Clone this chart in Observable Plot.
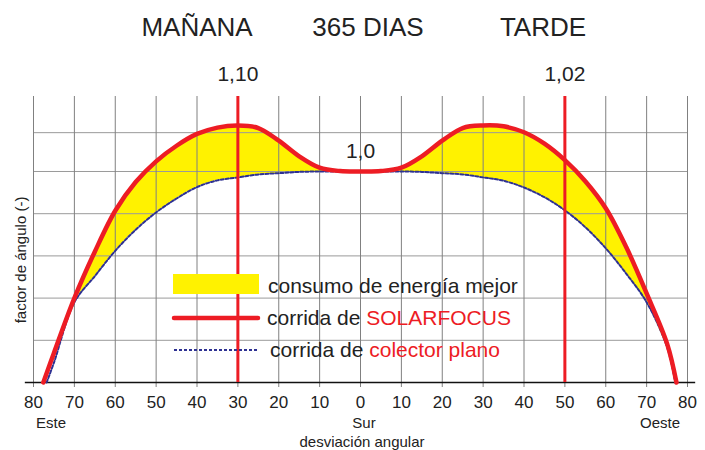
<!DOCTYPE html>
<html>
<head>
<meta charset="utf-8">
<script src="https://cdn.jsdelivr.net/npm/d3@7"></script>
<script src="https://cdn.jsdelivr.net/npm/@observablehq/plot@0.6"></script>
<style>
  html, body { margin: 0; padding: 0; background: #fff; }
  #chart svg { display: block; }
</style>
</head>
<body>
<div id="chart"></div>
<script>
// ---- data ----
const xTicks = [-80, -70, -60, -50, -40, -30, -20, -10, 0, 10, 20, 30, 40, 50, 60, 70, 80];
const yGrid = [0.6, 0.7, 0.8, 0.9, 1.0, 1.092];

// SOLARFOCUS curve
const sfAngles = [-77.6, -75, -70, -65, -60, -55, -50, -45, -40, -35, -30, -25, -20, -15, -10, -5, 0,
                  5, 10, 15, 20, 25, 30, 35, 40, 45, 50, 55, 60, 65, 70, 75, 77.3];
const sfValues = [0.5, 0.57, 0.70, 0.81, 0.907, 0.975, 1.024, 1.061, 1.089, 1.104, 1.109, 1.103, 1.073, 1.036, 1.009, 1.001, 1.0,
                  1.001, 1.009, 1.036, 1.073, 1.103, 1.109, 1.107, 1.093, 1.066, 1.027, 0.977, 0.913, 0.821, 0.711, 0.592, 0.5];

// flat plate collector curve
const fpAngles = [-76.8, -75, -70, -65, -60, -55, -50, -45, -40, -35, -30, -25, -20, -15, -10, -5, 0,
                  5, 10, 15, 20, 25, 30, 35, 40, 45, 50, 55, 60, 65, 70, 75, 77.0];
const fpValues = [0.5, 0.547, 0.69, 0.752, 0.812, 0.862, 0.903, 0.936, 0.963, 0.979, 0.986, 0.993, 0.996, 0.999, 1.0, 1.0, 1.0,
                  1.0, 1.0, 0.999, 0.996, 0.993, 0.986, 0.978, 0.962, 0.939, 0.908, 0.868, 0.818, 0.758, 0.69, 0.584, 0.5];

const markAngles = [-30, 50];
const markLabels = ["1,10", "1,02"];
const centerLabel = "1,0";
const titles = ["MAÑANA", "365 DIAS", "TARDE"];
const directions = ["Este", "Sur", "Oeste"];
const xLabel = "desviación angular";
const yLabel = "factor de ángulo (-)";
const legendTexts = ["consumo de energía mejor", "corrida de ", "SOLARFOCUS", "corrida de ", "colector plano"];

// ---- tables built from the arrays ----
const sf = sfAngles.map((a, i) => ({angle: a, v: sfValues[i]}));
const fp = fpAngles.map((a, i) => ({angle: a, v: fpValues[i]}));
const areaRows = sf
  .filter(d => fpAngles.includes(d.angle))
  .map(d => ({angle: d.angle, sf: d.v, fp: fpValues[fpAngles.indexOf(d.angle)]}));

const RED = "#ed1c24", BLUE = "#2e3192", YELLOW = "#fff200", TEXT = "#222";
const FONT = "'Liberation Sans', Arial, Helvetica, sans-serif";

const chart = Plot.plot({
  width: 705,
  height: 450,
  marginLeft: 33,
  marginRight: 18,
  marginTop: 96,
  marginBottom: 68,
  x: {domain: [-80, 80]},
  y: {domain: [0.5, 1.1777], axis: null},
  style: {fontFamily: FONT, color: TEXT, background: "#fff", overflow: "visible"},
  marks: [
    Plot.areaY(areaRows, {x: "angle", y1: "fp", y2: "sf", fill: YELLOW, curve: "catmull-rom"}),
    Plot.ruleY(yGrid, {stroke: "#9a9a9a", strokeWidth: 1}),
    Plot.gridX({ticks: xTicks, stroke: "#808080", strokeOpacity: 1, strokeWidth: 1}),
    Plot.axisX({ticks: xTicks, tickFormat: d => String(Math.abs(d)), tickSize: 5, tickPadding: 8,
                fontSize: 17, stroke: "#808080", fill: TEXT, label: null}),
    Plot.ruleY([0.5], {x1: -82, x2: 82, stroke: "#111", strokeWidth: 1.3}),
    Plot.line(fp, {x: "angle", y: "v", stroke: BLUE, strokeWidth: 2, strokeDasharray: "3,2", curve: "catmull-rom"}),
    Plot.line(sf, {x: "angle", y: "v", stroke: RED, strokeWidth: 4.5, curve: "catmull-rom", strokeLinecap: "round"}),
    Plot.ruleX(markAngles, {stroke: RED, strokeWidth: 3, ariaLabel: "sun-lines"}),
    Plot.text(markLabels, {x: (d, i) => markAngles[i], text: d => d, frameAnchor: "top", dy: -16,
                           lineAnchor: "bottom", fontSize: 21, fill: TEXT}),
    Plot.text([centerLabel], {x: [0], y: [1.0], text: d => d, dy: -13, lineAnchor: "bottom", fontSize: 21, fill: TEXT})
  ]
});
document.getElementById("chart").appendChild(chart);

// ---- legend (under the red vertical lines) and surrounding texts ----
const svg = d3.select(chart);
const lg = svg.insert("g", 'g[aria-label="sun-lines"]')
  .attr("font-family", FONT).attr("font-size", 21).attr("text-anchor", "start");
lg.append("rect").attr("x", 173).attr("y", 274).attr("width", 86).attr("height", 20).attr("fill", YELLOW);
lg.append("line").attr("x1", 174).attr("x2", 258).attr("y1", 318).attr("y2", 318)
  .attr("stroke", RED).attr("stroke-width", 4.5).attr("stroke-linecap", "round");
lg.append("line").attr("x1", 174).attr("x2", 259).attr("y1", 350).attr("y2", 350)
  .attr("stroke", BLUE).attr("stroke-width", 2).attr("stroke-dasharray", "3,2");
lg.append("text").attr("x", 268).attr("y", 293).attr("fill", TEXT).text(legendTexts[0]);
const t2 = lg.append("text").attr("x", 267).attr("y", 325).attr("fill", TEXT);
t2.append("tspan").text(legendTexts[1]);
t2.append("tspan").attr("fill", RED).text(legendTexts[2]);
const t3 = lg.append("text").attr("x", 270).attr("y", 357).attr("fill", TEXT);
t3.append("tspan").text(legendTexts[3]);
t3.append("tspan").attr("fill", RED).text(legendTexts[4]);

const tx = svg.append("g").attr("font-family", FONT).attr("fill", TEXT).attr("text-anchor", "middle");
[197, 368, 543].forEach((cx, i) => tx.append("text").attr("x", cx).attr("y", 36).attr("font-size", 26).text(titles[i]));
[51, 364, 660].forEach((cx, i) => tx.append("text").attr("x", cx).attr("y", 428).attr("font-size", 15).text(directions[i]));
tx.append("text").attr("x", 362).attr("y", 447).attr("font-size", 15).text(xLabel);
tx.append("text").attr("transform", "translate(26,260) rotate(-90)").attr("font-size", 15).text(yLabel);
</script>
</body>
</html>
